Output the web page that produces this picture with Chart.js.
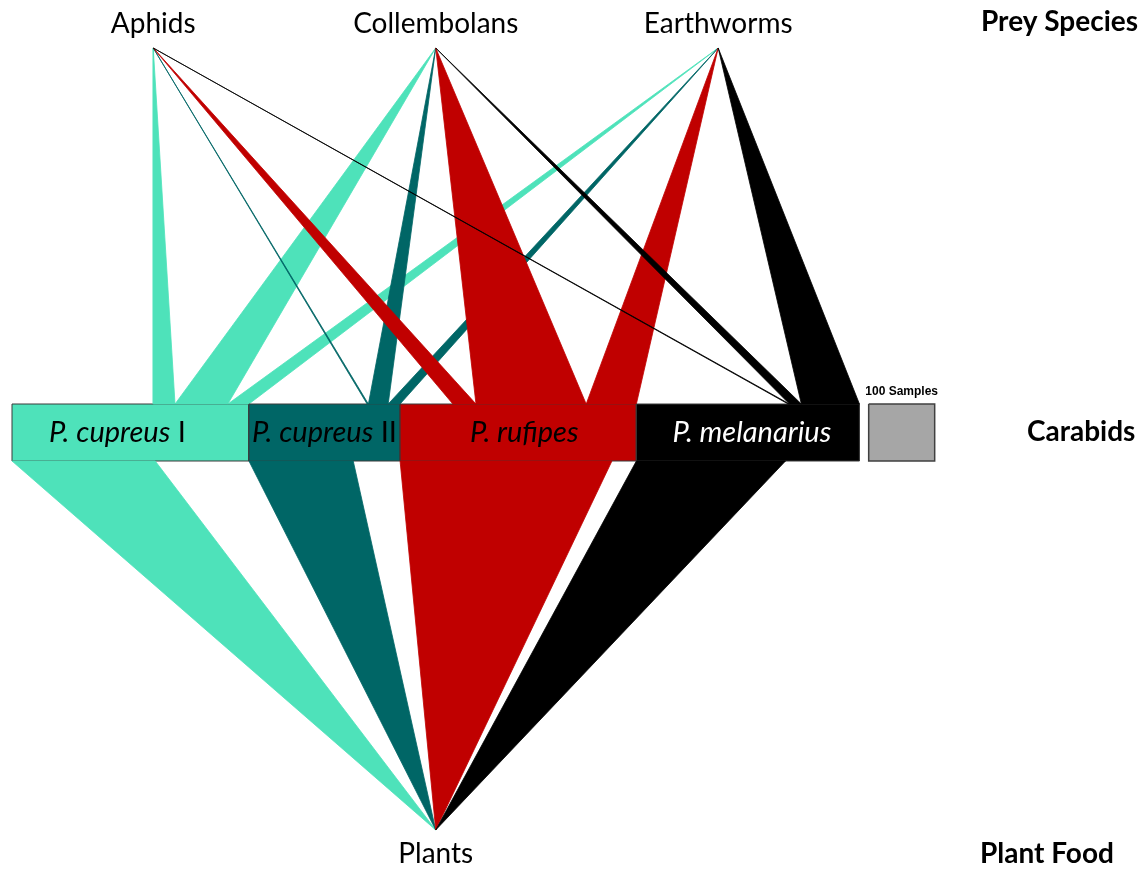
<!DOCTYPE html>
<html><head><meta charset="utf-8">
<script src="https://cdn.jsdelivr.net/npm/chart.js@4.4.1/dist/chart.umd.min.js"></script>
<style>html,body{margin:0;padding:0;background:#fff;} #wrap{width:1144px;height:869px;position:relative;}</style>
</head><body><div id="wrap"><canvas id="c"></canvas></div>
<script>
// ---------------- DATA (number of samples) ----------------
const preySpecies = ['Aphids', 'Collembolans', 'Earthworms'];
const carabids = ['P. cupreus I', 'P. cupreus II', 'P. rufipes', 'P. melanarius'];
const carabidSamples = [359, 229, 358, 338];      // box widths (individuals tested)
const aphidLinks = [33, 2, 35, 2];                 // Aphids -> each carabid
const collembolanLinks = [80, 30, 167, 18];       // Collembolans -> each carabid
const earthwormLinks = [32, 18, 76, 88];          // Earthworms -> each carabid
const plantLinks = [217, 158, 321, 226];          // each carabid -> Plants
const plantFood = 'Plants';
const levelTitles = ['Prey Species', 'Carabids', 'Plant Food'];
const scaleSamples = 100;

// ---------------- LAYOUT / STYLE ----------------
const PX_PER_SAMPLE = 0.66;
const LEFT_PX = 12;
const X_MIN = -LEFT_PX / PX_PER_SAMPLE;
const X_MAX = (1144 - LEFT_PX) / PX_PER_SAMPLE;
const LEVEL = { prey: 48, boxTop: 404, boxBottom: 461, plant: 830 };
const LEGEND_GAP = 14;
const COLORS = ['#4EE2BA', '#006666', '#C00000', '#000000'];
const LABEL_COLORS = ['#000', '#000', '#000', '#fff'];
const LABEL_DX = [-13, 0, 6, 4];
const BOX_BORDER = '#3a3a3a';

const preyLinks = [aphidLinks, collembolanLinks, earthwormLinks];
const total = carabidSamples.reduce((a, b) => a + b, 0);
const boxStart = [];
{ let acc = 0; carabidSamples.forEach(v => { boxStart.push(acc); acc += v; }); }
const preyX = preySpecies.map((_, i) => total * (i + 0.5) / preySpecies.length);
const plantX = total / 2;
const legendX0 = total + LEGEND_GAP;

function poly(pts, fillColor, strokeColor, bw) {
  const data = pts.map(p => ({ x: p[0], y: p[1] }));
  data.push({ x: pts[0][0], y: pts[0][1] });
  return { data, fill: 'shape', backgroundColor: fillColor, borderColor: strokeColor,
           borderWidth: bw, pointRadius: 0, pointHoverRadius: 0, tension: 0 };
}

const seq = [];
carabids.forEach((name, k) => {
  const x0 = boxStart[k], x1 = x0 + carabidSamples[k];
  seq.push(poly([[x0, LEVEL.boxTop], [x1, LEVEL.boxTop], [x1, LEVEL.boxBottom], [x0, LEVEL.boxBottom]], COLORS[k], BOX_BORDER, 1));
  seq.push(poly([[x0, LEVEL.boxBottom], [x0 + plantLinks[k], LEVEL.boxBottom], [plantX, LEVEL.plant]], COLORS[k], COLORS[k], 0.8));
  const topSum = preyLinks.reduce((s, arr) => s + arr[k], 0);
  let cur = x1 - topSum;
  preyLinks.forEach((arr, i) => {
    seq.push(poly([[preyX[i], LEVEL.prey], [cur, LEVEL.boxTop], [cur + arr[k], LEVEL.boxTop]], COLORS[k], COLORS[k], 0.8));
    cur += arr[k];
  });
});
seq.push(poly([[legendX0, LEVEL.boxTop], [legendX0 + scaleSamples, LEVEL.boxTop], [legendX0 + scaleSamples, LEVEL.boxBottom], [legendX0, LEVEL.boxBottom]], '#A6A6A6', '#404040', 1.5));
seq.forEach((d, i) => { d.order = seq.length - i; });

const labelPlugin = {
  id: 'labels',
  afterDraw(chart) {
    const { ctx } = chart; const x = chart.scales.x, y = chart.scales.y;
    ctx.save();
    ctx.textBaseline = 'alphabetic';
    ctx.fillStyle = '#000';
    ctx.textAlign = 'center';
    ctx.font = '28px Lato';
    preySpecies.forEach((n, i) => ctx.fillText(n, x.getPixelForValue(preyX[i]), 33));
    ctx.fillText(plantFood, x.getPixelForValue(plantX), 863);
    // carabid labels
    const itFont = 'italic 29px Lato', rgFont = '29px Lato';
    carabids.forEach((n, k) => {
      const m = n.match(/^(P\.\s\S+)(.*)$/);
      const it = m ? m[1] : n, rest = m ? m[2] : '';
      ctx.font = itFont;
      const w1 = ctx.measureText(it).width;
      ctx.font = rgFont;
      const w2 = ctx.measureText(rest).width;
      const cx = x.getPixelForValue(boxStart[k] + carabidSamples[k] / 2) + LABEL_DX[k];
      const sx = cx - (w1 + w2) / 2;
      ctx.textAlign = 'left';
      ctx.fillStyle = LABEL_COLORS[k];
      ctx.font = itFont;
      ctx.fillText(it, sx, 442);
      ctx.font = rgFont;
      ctx.fillText(rest, sx + w1, 442);
    });
    // legend label
    ctx.fillStyle = '#000';
    ctx.textAlign = 'center';
    ctx.font = 'bold 12px "Liberation Sans Narrow", "Liberation Sans", Arial';
    ctx.fillText(scaleSamples + ' Samples', x.getPixelForValue(legendX0 + scaleSamples / 2), 395);
    // level titles
    ctx.textAlign = 'left';
    ctx.font = 'bold 28px Lato';
    ctx.fillText(levelTitles[0], 981, 31);
    ctx.fillText(levelTitles[1], 1027, 441);
    ctx.fillText(levelTitles[2], 980, 863);
    ctx.restore();
  }
};

new Chart(document.getElementById('c'), {
  type: 'line',
  data: { datasets: seq },
  options: {
    responsive: true, maintainAspectRatio: false, animation: false,
    events: [],
    layout: { padding: 0 },
    plugins: { legend: { display: false }, tooltip: { enabled: false } },
    scales: {
      x: { type: 'linear', min: X_MIN, max: X_MAX, display: false },
      y: { type: 'linear', min: 0, max: 869, reverse: true, display: false }
    },
    elements: { point: { radius: 0 }, line: { tension: 0 } }
  },
  plugins: [labelPlugin]
});
</script>
</body></html>
